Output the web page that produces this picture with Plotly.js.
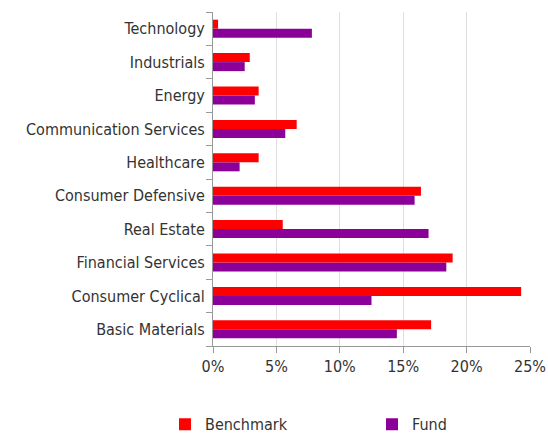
<!DOCTYPE html>
<html><head><meta charset="utf-8">
<script src="https://cdn.plot.ly/plotly-3.0.1.min.js"></script>
<style>html,body{margin:0;padding:0;background:#fff}#chart{width:548px;height:433px}</style>
</head><body><div id="chart"></div>
<script>
const categories = ["Basic Materials","Consumer Cyclical","Financial Services","Real Estate","Consumer Defensive","Healthcare","Communication Services","Energy","Industrials","Technology"];
const benchmark = [17.2, 24.3, 18.9, 5.5, 16.4, 3.6, 6.6, 3.6, 2.9, 0.4];
const fund = [14.5, 12.5, 18.4, 17.0, 15.9, 2.1, 5.7, 3.3, 2.5, 7.8];
const tickVals = [0, 5, 10, 15, 20, 25];
const tickText = ["0%","5%","10%","15%","20%","25%"];

const FONT = "'DejaVu Sans Condensed', 'DejaVu Sans', sans-serif";
const data = [
  {type:'bar', orientation:'h', name:'Fund', y:categories, x:fund, marker:{color:'#8B0099'}, legend:'legend2'},
  {type:'bar', orientation:'h', name:'Benchmark', y:categories, x:benchmark, marker:{color:'#FF0000'}, legend:'legend'}
];
const legBase = {orientation:'h', xref:'container', yref:'container', xanchor:'left', yanchor:'middle',
                 y:0.02, bgcolor:'rgba(0,0,0,0)', font:{family:FONT, size:16, color:'#333'}};
const layout = {
  width:548, height:433,
  margin:{l:213, r:18, t:12, b:87},
  paper_bgcolor:'#fff', plot_bgcolor:'#fff',
  font:{family:FONT, size:16, color:'#333'},
  barmode:'group', bargap:0.46, bargroupgap:0,
  showlegend:true,
  legend:Object.assign({}, legBase, {x:165/548}),
  legend2:Object.assign({}, legBase, {x:372/548}),
  xaxis:{range:[0,25], tickvals:tickVals, ticktext:tickText, showgrid:true, gridcolor:'#dedede', gridwidth:1,
         zeroline:false, showline:true, linecolor:'#999', linewidth:1, ticks:'outside', ticklen:6, tickcolor:'#999',
         tickfont:{family:FONT, size:16, color:'#333'}, fixedrange:true},
  yaxis:{type:'category', showline:true, linecolor:'#999', linewidth:1, ticks:'outside', ticklen:6, tickcolor:'#999',
         tickson:'boundaries', showgrid:false, tickfont:{family:FONT, size:16, color:'#333'}, ticklabelstandoff:4, fixedrange:true}
};
Plotly.newPlot('chart', data, layout, {displayModeBar:false, staticPlot:true});
</script></body></html>
